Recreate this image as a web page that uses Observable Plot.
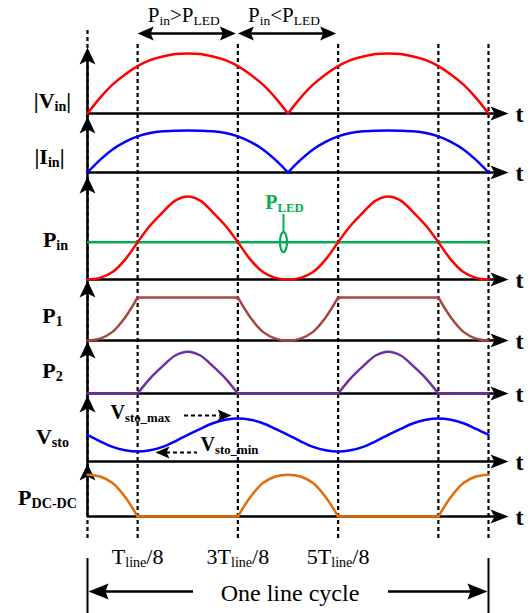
<!DOCTYPE html>
<html><head><meta charset="utf-8">
<script src="https://cdn.jsdelivr.net/npm/d3@7"></script>
<script src="https://cdn.jsdelivr.net/npm/@observablehq/plot@0.6"></script>
<style>body{margin:0;background:#fff}#chart svg{display:block}#chart svg text,#chart svg tspan{font-family:"Liberation Serif","DejaVu Serif","Times New Roman",Times,serif !important}</style>
</head><body><div id="chart"></div>
<script>
// time grid, in units of Tline/32 (one line cycle = 0..32)
const kGrid = [0,1,2,3,4,5,6,7,8,9,10,11,12,13,14,15,16,17,18,19,20,21,22,23,24,25,26,27,28,29,30,31,32];
// waveform values (per-panel normalised units)
const vinVals  = [0,0.26,0.48,0.65,0.79,0.89,0.95,0.99,1,0.99,0.95,0.89,0.79,0.65,0.48,0.26,0,0.26,0.48,0.65,0.79,0.89,0.95,0.99,1,0.99,0.95,0.89,0.79,0.65,0.48,0.26,0];
const iinVals  = [0,0.3,0.55,0.73,0.86,0.94,0.98,0.995,1,0.995,0.98,0.94,0.86,0.73,0.55,0.3,0,0.3,0.55,0.73,0.86,0.94,0.98,0.995,1,0.995,0.98,0.94,0.86,0.73,0.55,0.3,0];
const pinVals  = [0,0.02,0.09,0.24,0.45,0.65,0.81,0.95,1,0.95,0.81,0.65,0.45,0.24,0.09,0.02,0,0.02,0.09,0.24,0.45,0.65,0.81,0.95,1,0.95,0.81,0.65,0.45,0.24,0.09,0.02,0];
const pledVal  = 0.45;
const p1Vals   = [0,0.02,0.09,0.24,0.45,0.45,0.45,0.45,0.45,0.45,0.45,0.45,0.45,0.24,0.09,0.02,0,0.02,0.09,0.24,0.45,0.45,0.45,0.45,0.45,0.45,0.45,0.45,0.45,0.24,0.09,0.02,0];
const p2Vals   = [0,0,0,0,0,0.2,0.36,0.5,0.55,0.5,0.36,0.2,0,0,0,0,0,0,0,0,0,0.2,0.36,0.5,0.55,0.5,0.36,0.2,0,0,0,0,0];
const vstoVals = [0.62,0.47,0.34,0.26,0.23,0.26,0.34,0.47,0.62,0.76,0.89,0.97,1,0.97,0.89,0.76,0.62,0.47,0.34,0.26,0.23,0.26,0.34,0.47,0.62,0.76,0.89,0.97,1,0.97,0.89,0.76,0.62];
const pdcVals  = [0.45,0.43,0.36,0.21,0,0,0,0,0,0,0,0,0,0.21,0.36,0.43,0.45,0.43,0.36,0.21,0,0,0,0,0,0,0,0,0,0.21,0.36,0.43,0.45];
// labels
const panelLabels = ["|V_{in}|","|I_{in}|","P_{in}","P_{1}","P_{2}","V_{sto}","P_{DC-DC}"];
const dashK = [4,12,20,28,32];
const tickK = [4,12,20];
const tickLabels = ["T_{line}/8","3T_{line}/8","5T_{line}/8"];
const headerLabels = ["P_{in}>P_{LED}","P_{in}<P_{LED}"];
const cycleLabel = "One line cycle";

// ---- layout ----
const X0 = 87, X1 = 488, KMAX = 32;
const u = (X1 - X0) / KMAX;           // px per grid unit
const P = l => l / u;                  // px length -> grid units
const panels = [
  {values: vinVals,  color:"#ff0000", base:113, gain:60,   breaks:[16],         tip:47,  ly:107},
  {values: iinVals,  color:"#0000ff", base:172, gain:42,   breaks:[16],         tip:116, ly:163},
  {values: pinVals,  color:"#ff0000", base:279, gain:83,   breaks:[],           tip:176, ly:246},
  {values: p1Vals,   color:"#a5473f", base:340, gain:95.6, breaks:[4,12,20,28], tip:280, ly:322},
  {values: p2Vals,   color:"#7030a0", base:393, gain:76,   breaks:[4,12,20,28], tip:341, ly:377},
  {values: vstoVals, color:"#0000ff", base:461, gain:43,   breaks:[],           tip:395, ly:443},
  {values: pdcVals,  color:"#e46c0a", base:516, gain:93,   breaks:[4,12,20,28], tip:463, ly:504}
];
const labelX = [52, 49, 55, 52, 52, 52, 47];
panels.forEach((p,i) => { p.label = panelLabels[i]; p.lx = P(labelX[i] - X0); });

function segRows(p) {
  const b = [0, ...p.breaks, KMAX], rows = [];
  for (let s = 0; s < b.length - 1; s++)
    for (let k = b[s]; k <= b[s+1]; k++) rows.push({k: kGrid[k], v: p.values[k], seg: s});
  return rows;
}

function head(dir, len, hw, notch) {
  return {draw(c) {
    const pts = {
      up:    [[0,0],[-hw,len],[0,len-notch],[hw,len]],
      right: [[0,0],[-len,-hw],[-len+notch,0],[-len,hw]],
      left:  [[0,0],[len,-hw],[len-notch,0],[len,hw]]
    }[dir];
    c.moveTo(...pts[0]); for (let i = 1; i < pts.length; i++) c.lineTo(...pts[i]); c.closePath();
  }};
}
const ellipse = {draw(c){const k=0.5523,a=3.5,b=10;
  c.moveTo(a,0);c.bezierCurveTo(a,b*k,a*k,b,0,b);c.bezierCurveTo(-a*k,b,-a,b*k,-a,0);
  c.bezierCurveTo(-a,-b*k,-a*k,-b,0,-b);c.bezierCurveTo(a*k,-b,a,-b*k,a,0);c.closePath();}};

const FONT = "Liberation Serif";
const green = "#00b050";
const pinP = panels[2];

const marks = [
  // dashed guides
  Plot.ruleX([0], {y1: 30, y2: 540, strokeDasharray: "4,3", strokeWidth: 2.2}),
  Plot.ruleX(dashK, {y1: 44, y2: 541, strokeDasharray: "4,3", strokeWidth: 2.2}),
  // vertical axis
  Plot.ruleX([0], {y1: 55, y2: 516, strokeWidth: 2.5}),
  // horizontal axes
  Plot.ruleY(panels, {y: "base", x1: 0, x2: P(508 - X0) - 0.5, strokeWidth: 2.5}),
  Plot.dot(panels, {x: P(508 - X0), y: "base", symbol: head("right", 18, 7, 4), fill: "black", stroke: "none"}),
  Plot.dot(panels, {x: 0, y: "tip", symbol: head("up", 17, 8, 4), fill: "black", stroke: "none"}),
  Plot.text(panels, {x: P(515 - X0), y: d => d.base + 8, text: () => "t", textAnchor: "start", lineAnchor: "bottom",
    fontSize: 24, fontWeight: "bold", fontFamily: FONT}),
  // PLED level
  Plot.ruleY([pledVal], {y: d => pinP.base - d * pinP.gain, x1: 0, x2: KMAX, stroke: green, strokeWidth: 2.5}),
  // waveforms
  ...panels.map(p => Plot.line(segRows(p), {x: "k", y: d => p.base - d.v * p.gain, z: "seg",
    stroke: p.color, strokeWidth: 2.5, curve: "catmull-rom"})),
  // panel labels
  Plot.text(panels, {x: "lx", y: "ly", text: "label", textAnchor: "middle", lineAnchor: "bottom",
    fontSize: 22, fontWeight: "bold", fontFamily: FONT}),
  // PLED annotation
  Plot.text(["P_{LED}"], {x: P(284 - X0), y: 208, text: d => d, fill: green, fontSize: 20, fontWeight: "bold",
    textAnchor: "middle", lineAnchor: "bottom", fontFamily: FONT}),
  Plot.ruleX([P(283 - X0)], {y1: 214, y2: 232, stroke: green, strokeWidth: 2}),
  Plot.dot([pledVal], {x: P(283 - X0), y: d => pinP.base - d * pinP.gain, symbol: ellipse, fill: "none", stroke: green, strokeWidth: 2.2}),
  // header arrows
  Plot.ruleY([33], {x1: 4, x2: 12, insetLeft: 6, insetRight: 8, strokeWidth: 2.5}),
  Plot.ruleY([33], {x1: 12, x2: 20, insetLeft: 8, insetRight: 8, strokeWidth: 2.5}),
  Plot.dot([4, 12], {x: d => d, y: 33, symbol: head("left", 16, 7, 3), fill: "black", stroke: "none"}),
  Plot.dot([12, 20], {x: d => d, y: 33, dx: -2, symbol: head("right", 16, 7, 3), fill: "black", stroke: "none"}),
  Plot.text(headerLabels, {x: (d, i) => 8 + 8 * i, dx: -4, y: 21, text: d => d, textAnchor: "middle", lineAnchor: "bottom",
    fontSize: 21, fontFamily: FONT}),
  // Vsto annotations
  Plot.text(["V_{sto_max}"], {x: P(110 - X0), y: 418, text: d => d, textAnchor: "start", lineAnchor: "bottom",
    fontSize: 20, fontWeight: "bold", fontFamily: FONT}),
  Plot.text(["V_{sto_min}"], {x: P(200 - X0), y: 450, text: d => d, textAnchor: "start", lineAnchor: "bottom",
    fontSize: 20, fontWeight: "bold", fontFamily: FONT}),
  Plot.ruleY([415], {x1: P(184 - X0), x2: P(220 - X0), strokeDasharray: "4,3", strokeWidth: 2}),
  Plot.dot([415], {x: P(231 - X0), y: d => d, symbol: head("right", 14, 6, 3), fill: "black", stroke: "none"}),
  Plot.ruleY([452], {x1: P(166 - X0), x2: P(197 - X0), strokeDasharray: "4,3", strokeWidth: 2}),
  Plot.dot([452], {x: P(155 - X0), y: d => d, symbol: head("left", 14, 6, 3), fill: "black", stroke: "none"}),
  // bottom tick labels
  Plot.text(tickK, {x: d => d, y: 563, text: (d, i) => tickLabels[i], textAnchor: "middle", lineAnchor: "bottom",
    fontSize: 22, fontFamily: FONT}),
  // line-cycle span
  Plot.ruleX([0, KMAX], {y1: 558, y2: 613, strokeWidth: 2}),
  Plot.ruleY([591], {x1: 0, x2: P(193 - X0), insetLeft: 10, strokeWidth: 2.5}),
  Plot.ruleY([591], {x1: P(388 - X0), x2: KMAX, insetRight: 10, strokeWidth: 2.5}),
  Plot.dot([591], {x: 0, dx: 1, y: d => d, symbol: head("left", 20, 8, 3), fill: "black", stroke: "none"}),
  Plot.dot([591], {x: KMAX, dx: -1, y: d => d, symbol: head("right", 20, 8, 3), fill: "black", stroke: "none"}),
  Plot.text([cycleLabel], {x: KMAX / 2, dx: 2, y: 600, text: d => d, textAnchor: "middle", lineAnchor: "bottom",
    fontSize: 24, fontFamily: FONT})
];

const chart = Plot.plot({
  width: 531, height: 613, margin: 0,
  x: {domain: [0, KMAX], range: [X0, X1], axis: null},
  y: {domain: [0, 613], range: [0, 613], axis: null},
  style: {fontFamily: FONT, background: "#fff", overflow: "visible"},
  marks
});
document.getElementById("chart").append(chart);

// render "_{...}" as subscripts
const NS = "http://www.w3.org/2000/svg";
for (const t of chart.querySelectorAll("text")) {
  t.style.fontFamily = "'Liberation Serif', 'DejaVu Serif', serif";
  const s = t.textContent;
  if (!s.includes("_{")) continue;
  const fs = parseFloat(getComputedStyle(t).fontSize) || 16;
  const shift = Math.round(fs * 0.14);
  t.textContent = "";
  const parts = [];
  const re = /_\{([^}]*)\}/g; let last = 0, m;
  while ((m = re.exec(s))) { if (m.index > last) parts.push([s.slice(last, m.index), false]); parts.push([m[1], true]); last = re.lastIndex; }
  if (last < s.length) parts.push([s.slice(last), false]);
  let cur = 0;
  for (const [str, sub] of parts) {
    const ts = document.createElementNS(NS, "tspan");
    const want = sub ? shift : 0;
    if (want !== cur) { ts.setAttribute("dy", want - cur); cur = want; }
    if (sub) ts.setAttribute("font-size", fs * 0.64);
    ts.textContent = str;
    t.append(ts);
  }
}
</script></body></html>
